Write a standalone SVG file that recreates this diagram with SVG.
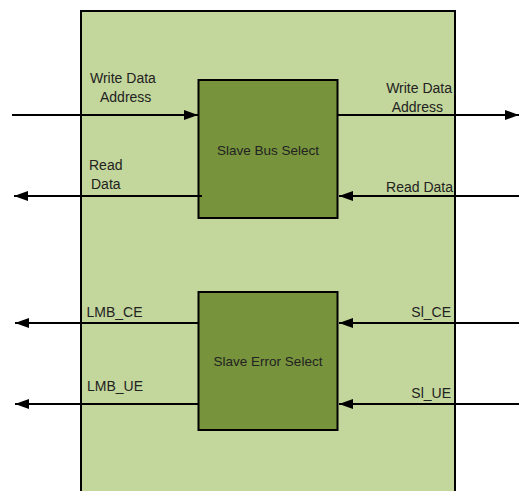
<svg xmlns="http://www.w3.org/2000/svg" width="519" height="491" viewBox="0 0 519 491">
<defs>
<style>
.t{font-family:"Liberation Sans",Arial,sans-serif;font-size:14px;fill:#222}
.r{text-anchor:end}
.c{text-anchor:middle;font-size:13.5px}
.box{fill:#77933C;stroke:#000;stroke-width:2}
.ln{stroke:#000;stroke-width:2;fill:none}
</style>
<marker id="ah" markerWidth="14" markerHeight="10" refX="14" refY="5" orient="auto" markerUnits="userSpaceOnUse">
<path d="M0,0 L14,5 L0,10 Z" fill="#000"/>
</marker>
</defs>
<rect width="519" height="491" fill="#fff"/>
<g id="container">
<rect x="81" y="11" width="374" height="490" fill="#C3D69B" stroke="#000" stroke-width="2"/>
</g>
<g id="slave-bus-select">
<rect class="box" x="198.5" y="80" width="139" height="138"/>
<text class="t c" x="268" y="155">Slave Bus Select</text>
</g>
<g id="slave-error-select">
<rect class="box" x="198.5" y="292" width="139" height="138"/>
<text class="t c" x="268" y="366">Slave Error Select</text>
</g>
<g id="connectors">
<line class="ln" x1="12" y1="115" x2="198" y2="115" marker-end="url(#ah)"/>
<line class="ln" x1="338" y1="115" x2="519" y2="115" marker-end="url(#ah)"/>
<line class="ln" x1="202" y1="196" x2="14" y2="196" marker-end="url(#ah)"/>
<line class="ln" x1="519" y1="196" x2="339" y2="196" marker-end="url(#ah)"/>
<line class="ln" x1="198" y1="323" x2="15" y2="323" marker-end="url(#ah)"/>
<line class="ln" x1="198" y1="404" x2="15" y2="404" marker-end="url(#ah)"/>
<line class="ln" x1="519" y1="323" x2="339" y2="323" marker-end="url(#ah)"/>
<line class="ln" x1="519" y1="404" x2="339" y2="404" marker-end="url(#ah)"/>
</g>
<g id="labels">
<text class="t" x="90" y="83">Write Data</text>
<text class="t" x="100" y="101.5">Address</text>
<text class="t" x="89" y="170">Read</text>
<text class="t" x="91" y="189">Data</text>
<text class="t r" x="452" y="93">Write Data</text>
<text class="t r" x="443" y="111.5">Address</text>
<text class="t r" x="453" y="191.5">Read Data</text>
<text class="t" x="86.5" y="316.5">LMB_CE</text>
<text class="t" x="87" y="390.5">LMB_UE</text>
<text class="t r" x="451" y="316.5">Sl_CE</text>
<text class="t r" x="451" y="398">Sl_UE</text>
</g>
</svg>
